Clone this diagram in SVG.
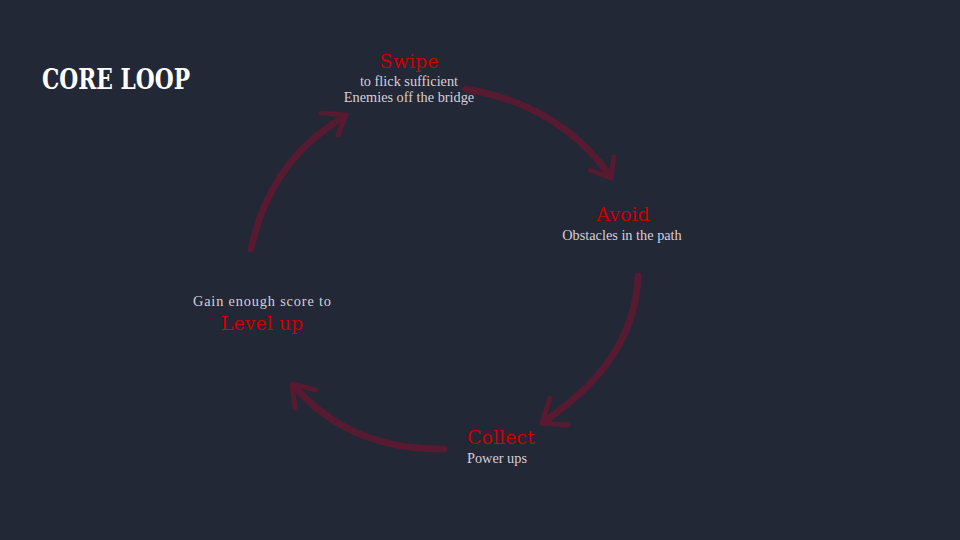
<svg xmlns="http://www.w3.org/2000/svg" width="960" height="540" viewBox="0 0 960 540">
<style>
.red{font-family:"DejaVu Serif","Liberation Serif",serif;fill:#cc0000;font-size:19px}
.sub{font-family:"Liberation Serif","DejaVu Serif",serif;fill:#d9cfd9;font-size:14.3px}
.arrow{fill:none;stroke:#5c1831;stroke-width:7;stroke-linecap:round;stroke-linejoin:round;opacity:0.9}
.head{fill:none;stroke:#5c1831;stroke-width:5;stroke-linecap:round;stroke-linejoin:round;opacity:0.9}
</style>
<rect width="960" height="540" fill="#222835"/>
<text x="42" y="89" font-family="'DejaVu Serif Condensed','DejaVu Serif',serif" font-weight="bold" font-size="28" fill="#ffffff" textLength="148" lengthAdjust="spacingAndGlyphs">CORE LOOP</text>
<g id="connectors">
  <path class="arrow" d="M466,89 Q560,105 610,176"/>
  <path class="head" d="M590,170 L611,178 L614,157"/>
  <path class="arrow" d="M638,276 Q635,360 546,420"/>
  <path class="head" d="M550,398 L542,423 L568,425"/>
  <path class="arrow" d="M444,449 Q350,450 295,387"/>
  <path class="head" d="M295,408 L292,384 L316,390"/>
  <path class="arrow" d="M251,249 Q270,160 344,117"/>
  <path class="head" d="M321,113 L346,115 L338,135"/>
</g>
<g id="swipe">
  <text class="red" x="409" y="68" text-anchor="middle">Swipe</text>
  <text class="sub" x="409" y="86" text-anchor="middle">to flick sufficient</text>
  <text class="sub" x="409" y="102" text-anchor="middle">Enemies off the bridge</text>
</g>
<g id="avoid">
  <text class="red" x="623" y="221" text-anchor="middle">Avoid</text>
  <text class="sub" x="622" y="240" text-anchor="middle">Obstacles in the path</text>
</g>
<g id="collect">
  <text class="red" x="467" y="444">Collect</text>
  <text class="sub" x="467" y="463">Power ups</text>
</g>
<g id="levelup">
  <text class="sub" x="262" y="306" text-anchor="middle" textLength="138" lengthAdjust="spacing">Gain enough score to</text>
  <text class="red" x="262" y="330" text-anchor="middle">Level up</text>
</g>
</svg>
